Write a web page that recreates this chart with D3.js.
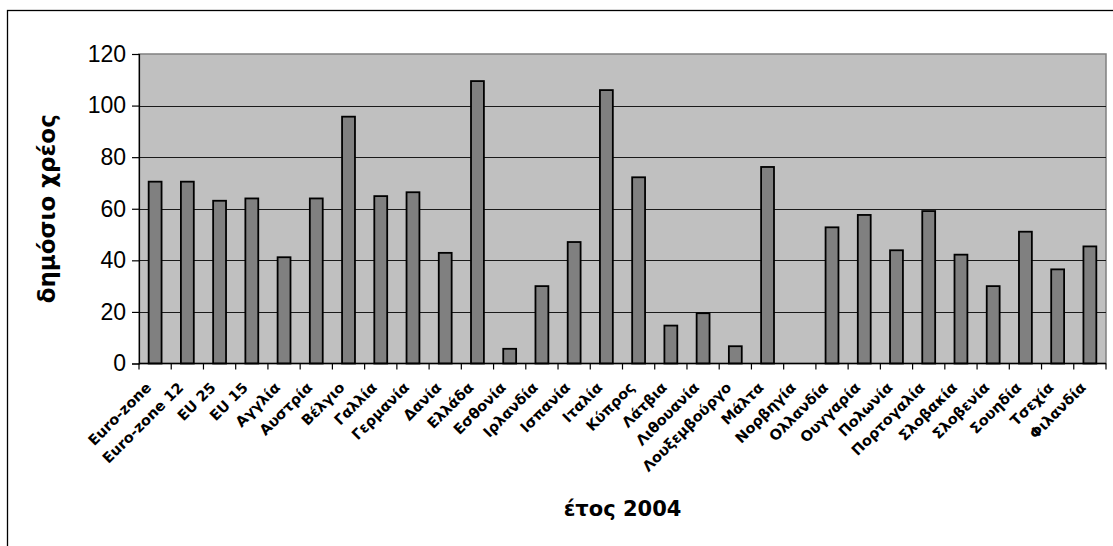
<!DOCTYPE html>
<html>
<head>
<meta charset="utf-8">
<script src="https://cdn.jsdelivr.net/npm/d3@7"></script>
<style>
  body { margin: 0; background: #fff; }
  svg { display: block; }
  .ytick text { font-family: Arial, "Liberation Sans", sans-serif; font-size: 23px; }
  .xlab { font-family: "DejaVu Sans", Verdana, sans-serif; font-weight: bold; font-size: 14.5px; }
  .title { font-family: "DejaVu Sans", Verdana, sans-serif; font-weight: bold; font-size: 21px; }
</style>
</head>
<body>
<div id="chart"></div>
<script>
var countries = ["Euro-zone", "Euro-zone 12", "EU 25", "EU 15", "Αγγλία", "Αυστρία", "Βέλγιο", "Γαλλία",
  "Γερμανία", "Δανία", "Ελλάδα", "Εσθονία", "Ιρλανδία", "Ισπανία", "Ιταλία", "Κύπρος", "Λάτβια",
  "Λιθουανία", "Λουξεμβούργο", "Μάλτα", "Νορβηγία", "Ολλανδία", "Ουγγαρία", "Πολωνία", "Πορτογαλία",
  "Σλοβακία", "Σλοβενία", "Σουηδία", "Τσεχία", "Φιλανδία"];
var debt = [70.5, 70.5, 63.1, 64.0, 41.2, 64.0, 95.7, 64.9,
  66.4, 42.9, 109.5, 5.7, 30.0, 47.1, 106.0, 72.2, 14.7,
  19.5, 6.7, 76.2, null, 52.8, 57.6, 43.9, 59.1,
  42.2, 30.0, 51.1, 36.5, 45.4];
var yTicks = [0, 20, 40, 60, 80, 100, 120];
var yTitle = "δημόσιο χρέος";
var xTitle = "έτος 2004";

var width = 1113, height = 546;
var plotL = 139, plotR = 1106, plotT = 54, plotB = 363.5;

var svg = d3.select("#chart").append("svg")
    .attr("width", width)
    .attr("height", height);

// outer chart frame
svg.append("rect")
    .attr("x", 7.5).attr("y", 10.5)
    .attr("width", 1130).attr("height", 560)
    .attr("fill", "#fff")
    .attr("stroke", "#000")
    .attr("stroke-width", 1.3);

var x = d3.scaleBand()
    .domain(countries)
    .range([plotL, plotR])
    .paddingInner(0.6)
    .paddingOuter(0.3);

var y = d3.scaleLinear()
    .domain([0, 120])
    .range([plotB, plotT]);

// plot area
svg.append("rect")
    .attr("x", plotL).attr("y", plotT)
    .attr("width", plotR - plotL).attr("height", plotB - plotT)
    .attr("fill", "#c0c0c0")
    .attr("stroke", "#808080")
    .attr("stroke-width", 1.5);

// gridlines
svg.append("g").selectAll("line")
    .data(yTicks.filter(function(d) { return d > 0 && d < 120; }))
  .enter().append("line")
    .attr("x1", plotL).attr("x2", plotR)
    .attr("y1", function(d) { return Math.round(y(d)) + 0.5; })
    .attr("y2", function(d) { return Math.round(y(d)) + 0.5; })
    .attr("stroke", "#1a1a1a")
    .attr("stroke-width", 1);

// bars
svg.append("g").selectAll("rect")
    .data(countries.map(function(c, i) { return {name: c, value: debt[i]}; })
      .filter(function(d) { return d.value != null; }))
  .enter().append("rect")
    .attr("x", function(d) { return x(d.name); })
    .attr("width", x.bandwidth())
    .attr("y", function(d) { return y(d.value); })
    .attr("height", function(d) { return y(0) - y(d.value); })
    .attr("fill", "#808080")
    .attr("stroke", "#000")
    .attr("stroke-width", 1.8);

// y axis
var yAxis = svg.append("g")
    .attr("class", "ytick")
    .attr("transform", "translate(" + plotL + ",0)")
    .call(d3.axisLeft(y).tickValues(yTicks).tickSize(7).tickPadding(6));
yAxis.select(".domain").attr("stroke", "#000").attr("stroke-width", 1.2);
yAxis.selectAll(".tick line").attr("stroke", "#000").attr("stroke-width", 1.2);
yAxis.selectAll("text").attr("fill", "#000");

// x axis line + ticks between categories
svg.append("line")
    .attr("x1", plotL).attr("x2", plotR)
    .attr("y1", plotB).attr("y2", plotB)
    .attr("stroke", "#000").attr("stroke-width", 1.5);
svg.append("g").selectAll("line")
    .data(d3.range(countries.length + 1))
  .enter().append("line")
    .attr("x1", function(i) { return plotL + i * x.step(); })
    .attr("x2", function(i) { return plotL + i * x.step(); })
    .attr("y1", plotB).attr("y2", plotB + 6)
    .attr("stroke", "#000").attr("stroke-width", 1.2);

// x labels rotated
svg.append("g").selectAll("text")
    .data(countries)
  .enter().append("text")
    .attr("class", "xlab")
    .attr("text-anchor", "end")
    .attr("transform", function(d) {
      var cx = x(d) + x.bandwidth() / 2 - 3;
      return "translate(" + cx + "," + (plotB + 25) + ")rotate(-45)";
    })
    .text(function(d) { return d; });

// axis titles
svg.append("text")
    .attr("class", "title")
    .attr("text-anchor", "middle")
    .attr("font-size", "23px")
    .attr("transform", "translate(55," + ((plotT + plotB) / 2) + ")rotate(-90)")
    .style("font-size", "23px")
    .text(yTitle);

svg.append("text")
    .attr("class", "title")
    .attr("text-anchor", "middle")
    .attr("x", (plotL + plotR) / 2)
    .attr("y", 516)
    .text(xTitle);
</script>
</body>
</html>
